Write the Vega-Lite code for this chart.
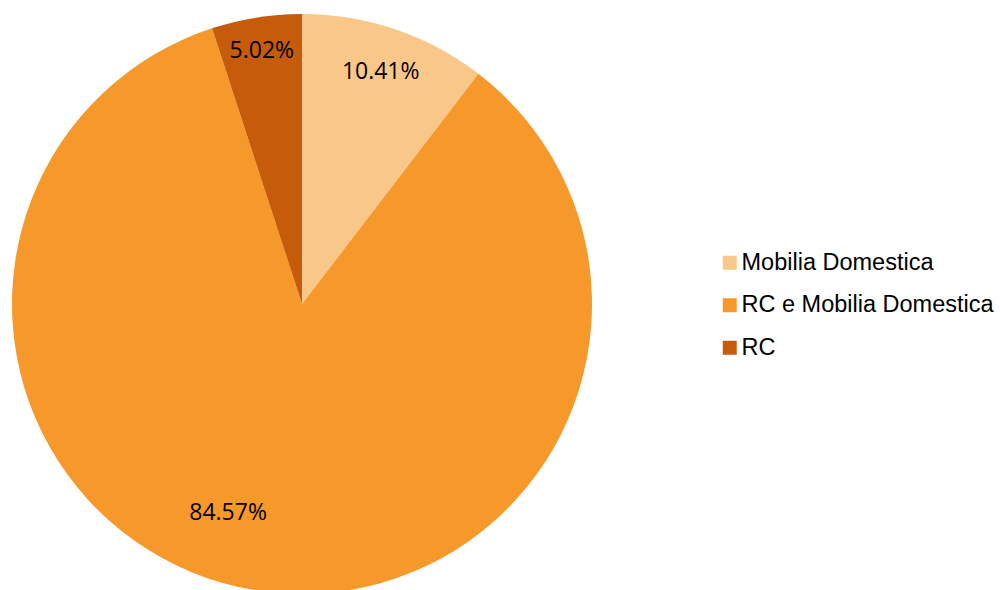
{
  "$schema": "https://vega.github.io/schema/vega-lite/v6.json",
  "width": 604,
  "height": 608,
  "autosize": {"type": "none"},
  "padding": {"left": 0, "top": 0, "right": 396, "bottom": 0},
  "background": "white",
  "data": {"values": [
    {"category": "Mobilia Domestica", "share": 10.41, "label": "10.41%", "idx": 1},
    {"category": "RC e Mobilia Domestica", "share": 84.57, "label": "84.57%", "idx": 2},
    {"category": "RC", "share": 5.02, "label": "5.02%", "idx": 3}
  ]},
  "encoding": {
    "theta": {"field": "share", "type": "quantitative", "stack": true},
    "order": {"field": "idx", "type": "quantitative"}
  },
  "layer": [
    {
      "mark": {"type": "arc", "outerRadius": 290},
      "encoding": {
        "color": {
          "field": "category",
          "type": "nominal",
          "scale": {"domain": ["Mobilia Domestica", "RC e Mobilia Domestica", "RC"], "range": ["#FAC78B", "#F7982A", "#C55B0B"]},
          "legend": {
            "title": null,
            "orient": "none",
            "legendX": 718,
            "legendY": 251,
            "symbolType": "square",
            "symbolSize": 196,
            "symbolStrokeWidth": 0,
            "labelFont": "Liberation Sans",
            "labelFontSize": 23.5,
            "labelColor": "#000000",
            "labelOffset": 0,
            "rowPadding": 17.5,
            "labelLimit": 400
          }
        }
      }
    },
    {
      "mark": {"type": "text", "radius": 245, "font": "Open Sans", "fontSize": 23, "color": "#000000"},
      "encoding": {
        "text": {"condition": {"test": "datum.category === 'Mobilia Domestica'", "field": "label"}, "value": ""}
      }
    },
    {
      "mark": {"type": "text", "radius": 256, "font": "Open Sans", "fontSize": 23, "color": "#000000"},
      "encoding": {
        "text": {"condition": {"test": "datum.category === 'RC'", "field": "label"}, "value": ""}
      }
    },
    {
      "mark": {"type": "text", "radius": 222, "thetaOffset": 0.17, "font": "Open Sans", "fontSize": 23, "color": "#000000"},
      "encoding": {
        "text": {"condition": {"test": "datum.category === 'RC e Mobilia Domestica'", "field": "label"}, "value": ""}
      }
    }
  ],
  "config": {"view": {"stroke": null}}
}
